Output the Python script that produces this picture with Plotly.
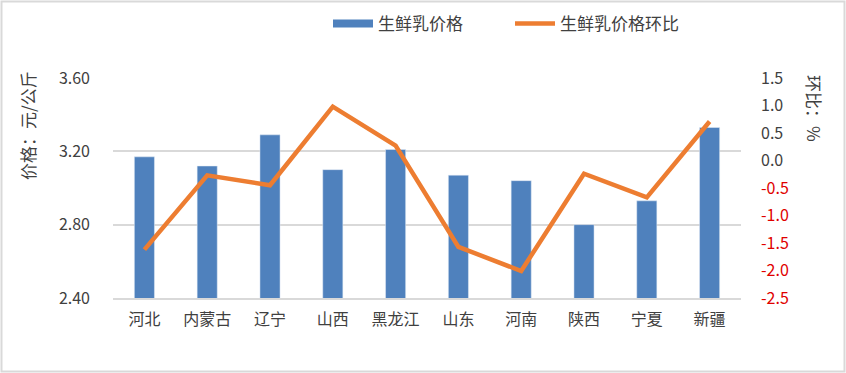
import plotly.graph_objects as go

categories = ["河北", "内蒙古", "辽宁", "山西", "黑龙江", "山东", "河南", "陕西", "宁夏", "新疆"]
price = [3.17, 3.12, 3.29, 3.10, 3.21, 3.07, 3.04, 2.80, 2.93, 3.33]
mom = [-1.62, -0.27, -0.45, 0.98, 0.27, -1.57, -2.01, -0.24, -0.67, 0.71]

left_ticks = [2.40, 2.80, 3.20, 3.60]
right_ticks = [-2.5, -2.0, -1.5, -1.0, -0.5, 0.0, 0.5, 1.0, 1.5]

BLUE = "#4F81BD"
ORANGE = "#ED7D31"
TXT = "#404040"
GRID = "#D9D9D9"
FONT = "Noto Sans CJK SC"

W, H = 846, 373
ML, MR, MT, MB = 113, 105, 78, 75

right_text = []
for v in right_ticks:
    s = f"{v:.1f}"
    if v < 0:
        s = f'<span style="color:#E00000">{s}</span>'
    right_text.append(s)

fig = go.Figure()
fig.add_trace(go.Bar(x=categories, y=price, name="生鲜乳价格", marker_color=BLUE,
                     width=0.32, showlegend=False, yaxis="y"))
fig.add_trace(go.Scatter(x=[None], y=[None], mode="lines", name="生鲜乳价格",
                         line=dict(color=BLUE, width=8), yaxis="y"))
fig.add_trace(go.Scatter(x=categories, y=mom, name="生鲜乳价格环比", mode="lines",
                         line=dict(color=ORANGE, width=4.5), yaxis="y2"))

pw = W - ML - MR
ph = H - MT - MB
def px_x(p):
    return (p - ML) / pw
def px_y(p):
    return (H - MB - p) / ph

fig.update_layout(
    width=W, height=H,
    margin=dict(l=ML, r=MR, t=MT, b=MB, autoexpand=False),
    paper_bgcolor="white", plot_bgcolor="white",
    font=dict(family=FONT, color=TXT, size=16),
    xaxis=dict(showgrid=False, showline=True, linecolor=GRID, linewidth=2,
               tickfont=dict(size=16, color=TXT), ticks="", ticklabelstandoff=6),
    yaxis=dict(range=[2.4, 3.6], tickvals=left_ticks, ticktext=[f"{v:.2f}" for v in left_ticks],
               showgrid=True, gridcolor=GRID, gridwidth=2, zeroline=False,
               tickfont=dict(size=16, color=TXT), ticklabelstandoff=22),
    yaxis2=dict(range=[-2.5, 1.5], tickvals=right_ticks, ticktext=right_text,
                overlaying="y", side="right", showgrid=False, zeroline=False,
                tickfont=dict(size=16, color=TXT), ticklabelstandoff=19),
    legend=dict(orientation="h", x=px_x(328), xanchor="left", y=px_y(24), yanchor="middle",
                font=dict(size=17, color=TXT), itemwidth=40, traceorder="normal",
                entrywidth=127, entrywidthmode="pixels",
                bgcolor="rgba(0,0,0,0)"),
    bargap=0.68,
    annotations=[
        dict(text="价格：元/公斤", textangle=-90, xref="paper", yref="paper",
             x=px_x(27), y=px_y(126), xanchor="center", yanchor="middle",
             showarrow=False, font=dict(size=17, color=TXT)),
        dict(text="环比：%", textangle=90, xref="paper", yref="paper",
             x=px_x(815), y=px_y(108), xanchor="center", yanchor="middle",
             showarrow=False, font=dict(size=17, color=TXT)),
    ],
    shapes=[
        dict(type="rect", xref="paper", yref="paper",
             x0=px_x(1.5), x1=px_x(844.5), y0=px_y(371.5), y1=px_y(1.5),
             line=dict(color=GRID, width=2), fillcolor="rgba(0,0,0,0)", layer="below"),
    ],
)

fig.write_html("out.html", config={"displayModeBar": False},
               post_script="document.body.style.margin='0';document.body.style.overflow='hidden';")
